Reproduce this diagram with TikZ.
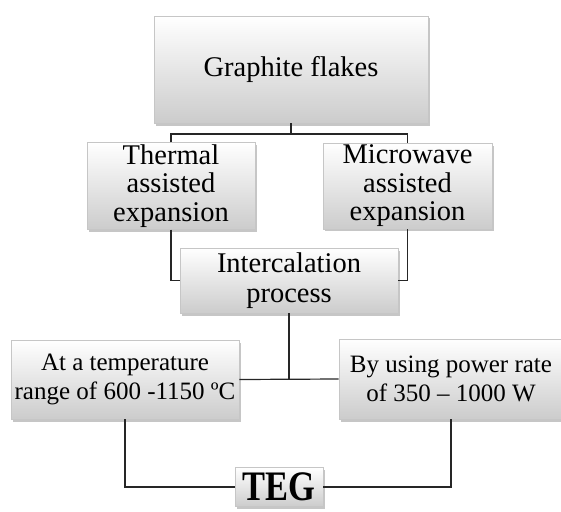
\documentclass[tikz,border=0pt]{standalone}
\usepackage{fontspec}
\setmainfont{Liberation Serif}
\usetikzlibrary{shadows}

\begin{document}
\begin{tikzpicture}[x=1pt, y=-1pt,
    box/.style={draw=gray!45, line width=0.6pt, align=center, inner sep=2pt,
        top color=white, middle color=white!96!black, bottom color=black!20,
        drop shadow={shadow xshift=1.5pt, shadow yshift=-2.5pt, opacity=0.45}},
    bigtext/.style={font=\fontsize{28.5}{28.5}\selectfont},
    smalltext/.style={font=\fontsize{25}{29}\selectfont},
    link/.style={draw=black!85, line width=1.2pt}]

    % Fix the page
    \useasboundingbox (0,0) rectangle (561,511);

    % Draw the boxes
    \node[box, bigtext, minimum width=274pt, minimum height=107pt] (flakes) at (291,69.5) {Graphite flakes};
    \node[box, bigtext, minimum width=168pt, minimum height=84pt] (thermal) at (171,186) {Thermal\\assisted\\expansion};
    \node[box, bigtext, minimum width=169pt, minimum height=84pt] (microwave) at (407.5,186) {Microwave\\assisted\\expansion};
    \node[box, font=\fontsize{28.5}{30}\selectfont, minimum width=218pt, minimum height=65pt] (intercalation) at (289,280.5) {Intercalation\\process};
    \node[box, smalltext, minimum width=228pt, minimum height=79pt] (temperature) at (125,379.5) {At a temperature\\range of 600 -1150 ºC};
    \node[box, smalltext, minimum width=224pt, minimum height=80pt] (power) at (451,379) {By using power rate\\of 350 -- 1000 W};
    \node[box, minimum width=88pt, minimum height=39pt, inner sep=1pt] (teg) at (279,487)
        {\scalebox{0.82}[1]{\fontsize{42}{42}\selectfont\bfseries TEG}};

    % Draw the connectors
    \coordinate (split) at (291,134);
    \draw[link] (flakes.south) -- (split);
    \draw[link] (thermal.north) |- (split) -| (microwave.north);
    \draw[link] (thermal.south) |- (intercalation.west);
    \draw[link] (microwave.south) |- (intercalation.east);

    \draw[link] (temperature.east) -- (power.west);
    \draw[link] (intercalation.south) -- (intercalation.south |- temperature.east);

    \draw[link] (temperature.south) |- (teg.west);
    \draw[link] (power.south) |- (teg.east);

\end{tikzpicture}
\end{document}
